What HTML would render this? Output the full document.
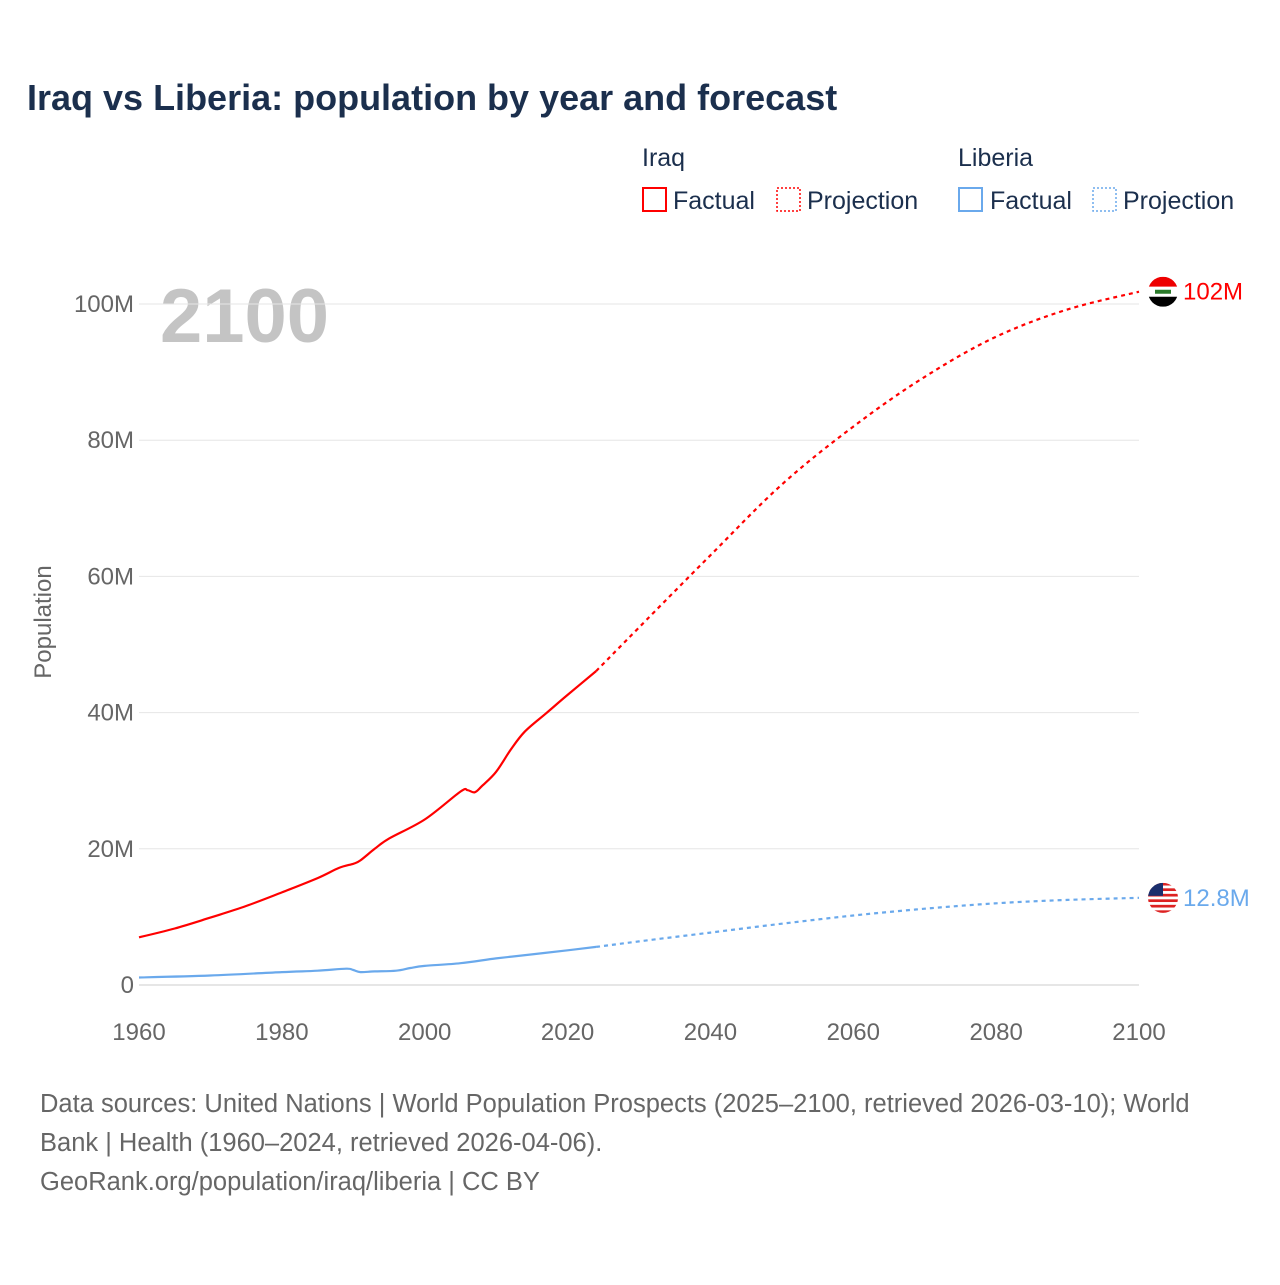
<!DOCTYPE html>
<html><head><meta charset="utf-8"><style>
body{margin:0;background:#fff;font-family:"Liberation Sans",sans-serif;}
#c{position:relative;width:1280px;height:1280px;}
</style></head><body>
<div id="c">
<svg id="svg" width="1280" height="1280" xmlns="http://www.w3.org/2000/svg">
<defs>
<clipPath id="cpI"><circle cx="1163" cy="0" r="15" id="cpIc"/></clipPath>
<clipPath id="cpL"><circle cx="1163" cy="0" r="15" id="cpLc"/></clipPath>
</defs>
<text x="27" y="110" font-size="36" font-weight="bold" fill="#1b2f4d">Iraq vs Liberia: population by year and forecast</text>
<g font-size="25" fill="#1b2f4d">
<text x="642" y="166">Iraq</text>
<text x="958" y="166">Liberia</text>
<g><rect x="643" y="188" width="23" height="23" fill="none" stroke="#f00" stroke-width="2"/><text x="673" y="209">Factual</text></g>
<g><rect x="777" y="188" width="23" height="23" fill="none" stroke="#f00" stroke-width="1.5" stroke-dasharray="2,2"/><text x="807" y="209">Projection</text></g>
<g><rect x="959" y="188" width="23" height="23" fill="none" stroke="#6aa9ec" stroke-width="2"/><text x="990" y="209">Factual</text></g>
<g><rect x="1093" y="188" width="23" height="23" fill="none" stroke="#6aa9ec" stroke-width="1.5" stroke-dasharray="2,2"/><text x="1123" y="209">Projection</text></g>
</g>
<text x="160" y="342" font-size="76" font-weight="bold" fill="#c4c4c4">2100</text>
<text transform="translate(51,622) rotate(-90)" text-anchor="middle" font-size="24" fill="#666">Population</text>
<g id="grid"></g><g id="marks"></g>
<g font-size="25.5" fill="#666">
<text x="40" y="1112">Data sources: United Nations | World Population Prospects (2025–2100, retrieved 2026-03-10); World</text>
<text x="40" y="1151">Bank | Health (1960–2024, retrieved 2026-04-06).</text>
<text x="40" y="1190">GeoRank.org/population/iraq/liberia | CC BY</text>
</g>
</svg></div>
<script>
const yTicks=[0,20,40,60,80,100];
const yTickLabels=["0","20M","40M","60M","80M","100M"];
const xTicks=[1960,1980,2000,2020,2040,2060,2080,2100];
const iraqYears=[1960,1965,1970,1975,1980,1985,1988,1990,1991,1993,1995,2000,2005,2006,2007,2008,2010,2012,2014,2017,2020,2024];
const iraqValues=[7.0,8.3,9.9,11.6,13.6,15.7,17.2,17.8,18.3,20.0,21.5,24.3,28.4,28.6,28.3,29.2,31.3,34.5,37.2,39.9,42.6,46.1];
const iraqProjYears=[2024,2030,2040,2050,2060,2070,2080,2090,2100];
const iraqProjValues=[46.1,52.5,63.1,73.5,82.0,89.3,95.2,99.2,101.8];
const libYears=[1960,1970,1980,1985,1989,1990,1991,1993,1996,1998,2000,2005,2010,2015,2020,2024];
const libValues=[1.1,1.4,1.9,2.1,2.4,2.2,1.9,2.0,2.1,2.5,2.8,3.2,3.9,4.5,5.1,5.6];
const libProjYears=[2024,2030,2040,2050,2060,2070,2080,2090,2100];
const libProjValues=[5.6,6.4,7.7,9.0,10.2,11.2,12.0,12.5,12.8];
const NS="http://www.w3.org/2000/svg";
const X=y=>139+(y-1960)*1000/140, Y=v=>985-v*6.81;
const grid=document.getElementById('grid'), marks=document.getElementById('marks');
function mk(p,tag,a){const e=document.createElementNS(NS,tag);for(const k in a)e.setAttribute(k,a[k]);p.appendChild(e);return e;}
yTicks.forEach((t,i)=>{
 const l=mk(grid,'line',{x1:139,x2:1139,y1:Y(t),y2:Y(t),stroke:t==0?'#ccc':'#e6e6e6','stroke-width':1});
 
 
 const tx=mk(grid,'text',{x:134,y:Y(t)+8,'text-anchor':'end','font-size':24,fill:'#666'});tx.textContent=yTickLabels[i];
 
 
});
xTicks.forEach(t=>{
 const tx=mk(grid,'text',{x:X(t),y:1040,'text-anchor':'middle','font-size':24,fill:'#666'});tx.textContent=t;
 
 
});
function line(xs,vs,col,dash,name){
 const P=xs.map((x,i)=>[X(x),Y(vs[i])]);
 let d='M'+P[0][0].toFixed(1)+','+P[0][1].toFixed(1);
 for(let i=0;i<P.length-1;i++){
  const p0=P[i-1]||P[i],p1=P[i],p2=P[i+1],p3=P[i+2]||P[i+1];
  const c1=[p1[0]+(p2[0]-p0[0])/6,p1[1]+(p2[1]-p0[1])/6];
  const c2=[p2[0]-(p3[0]-p1[0])/6,p2[1]-(p3[1]-p1[1])/6];
  d+='C'+c1.map(v=>v.toFixed(1)).join(',')+' '+c2.map(v=>v.toFixed(1)).join(',')+' '+p2[0].toFixed(1)+','+p2[1].toFixed(1);
 }
 const p=mk(marks,'path',{d:d,fill:'none',stroke:col,'stroke-width':2.2,'stroke-dasharray':dash||'none','stroke-linejoin':'round'});
 
 
}
line(iraqYears,iraqValues,'#f00',null,'iraq-factual-line');
line(iraqProjYears,iraqProjValues,'#f00','4,4','iraq-projection-line');
line(libYears,libValues,'#6aa9ec',null,'liberia-factual-line');
line(libProjYears,libProjValues,'#6aa9ec','4,4','liberia-projection-line');
function endLabel(v,col,txt,name,flag){
 const g=mk(marks,'g',{});
 
 
 const cy=Y(v);
 const fg=mk(g,'g',{'clip-path':flag=='iraq'?'url(#cpI)':'url(#cpL)'});
 document.getElementById(flag=='iraq'?'cpIc':'cpLc').setAttribute('cy',cy);
 if(flag=='iraq'){
  mk(fg,'rect',{x:1148,y:cy-15,width:30,height:10,fill:'#e00'});
  mk(fg,'rect',{x:1148,y:cy-5,width:30,height:10,fill:'#fff'});
  mk(fg,'rect',{x:1148,y:cy+5,width:30,height:10,fill:'#000'});
  mk(fg,'rect',{x:1155,y:cy-2,width:16,height:4,fill:'#2a7a2a'});
 }else{
  mk(fg,'rect',{x:1148,y:cy-15,width:30,height:30,fill:'#fff'});
  for(let i=0;i<6;i++)mk(fg,'rect',{x:1148,y:cy-15+i*5.5,width:30,height:2.7,fill:'#d22'});
  mk(fg,'rect',{x:1148,y:cy-15,width:15,height:13,fill:'#1b2f6d'});
 }
 const t=mk(g,'text',{x:1183,y:cy+8,'font-size':24,fill:col});t.textContent=txt;
}
endLabel(iraqProjValues[iraqProjValues.length-1],'#f00','102M','iraq-end-label','iraq');
endLabel(libProjValues[libProjValues.length-1],'#6aa9ec','12.8M','liberia-end-label','lib');
</script>
</body></html>
